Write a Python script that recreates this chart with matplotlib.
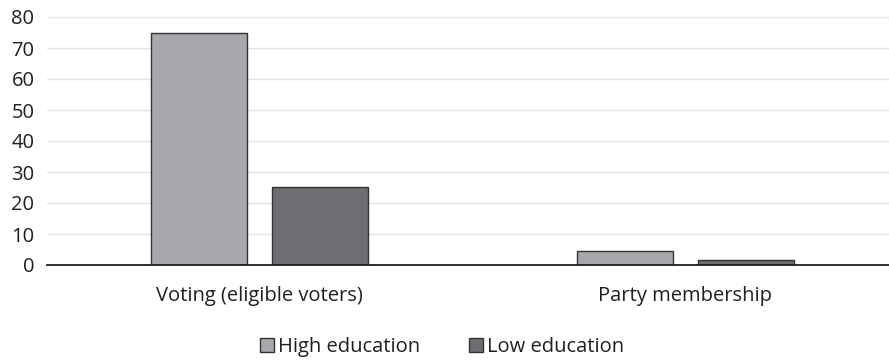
import matplotlib
matplotlib.use("Agg")
from matplotlib import pyplot as plt
import numpy as np

# categories and series
categories = ["Voting (eligible voters)", "Party membership"]
high_edu = [75, 4.5]
low_edu = [25.2, 1.6]
series_names = ["High education", "Low education"]
yticks = [0, 10, 20, 30, 40, 50, 60, 70, 80]

plt.rcParams['font.family'] = ['Open Sans', 'DejaVu Sans']
fs = 14.5

fig = plt.figure(figsize=(8.89, 3.6), dpi=100)
ax = fig.add_axes([47/889, 95/360, 842/889, 248/360])

x = np.arange(len(categories))
w = 0.225
off = 0.142
b1 = ax.bar(x - off, high_edu, width=w, color='#a7a8ab', edgecolor='#333333', linewidth=1.0, zorder=3)
b2 = ax.bar(x + off, low_edu, width=w, color='#6d6e71', edgecolor='#333333', linewidth=1.0, zorder=3)

ax.set_xlim(-0.499, 1.478)
ax.set_ylim(0, 80)
ax.set_yticks(yticks)
ax.set_xticks(x)
ax.set_xticklabels(categories)
ax.yaxis.grid(True, color='#e4e4e4', linewidth=1.0, zorder=0)
ax.tick_params(axis='both', length=0, labelsize=fs, colors='#231f20')
ax.tick_params(axis='x', pad=15)
ax.tick_params(axis='y', pad=9)
for s in ['top', 'right', 'left']:
    ax.spines[s].set_visible(False)
ax.spines['bottom'].set_color('#231f20')
ax.spines['bottom'].set_linewidth(1.3)
ax.spines['bottom'].set_zorder(4)

fig.legend([b1, b2], series_names, loc='center', bbox_to_anchor=(442/889, 1 - 347/360),
           ncol=2, frameon=False, handlelength=0.7, handleheight=0.7,
           handletextpad=0.2, columnspacing=2.4, fontsize=fs, labelcolor='#231f20')

fig.savefig("out.png", dpi=100)
